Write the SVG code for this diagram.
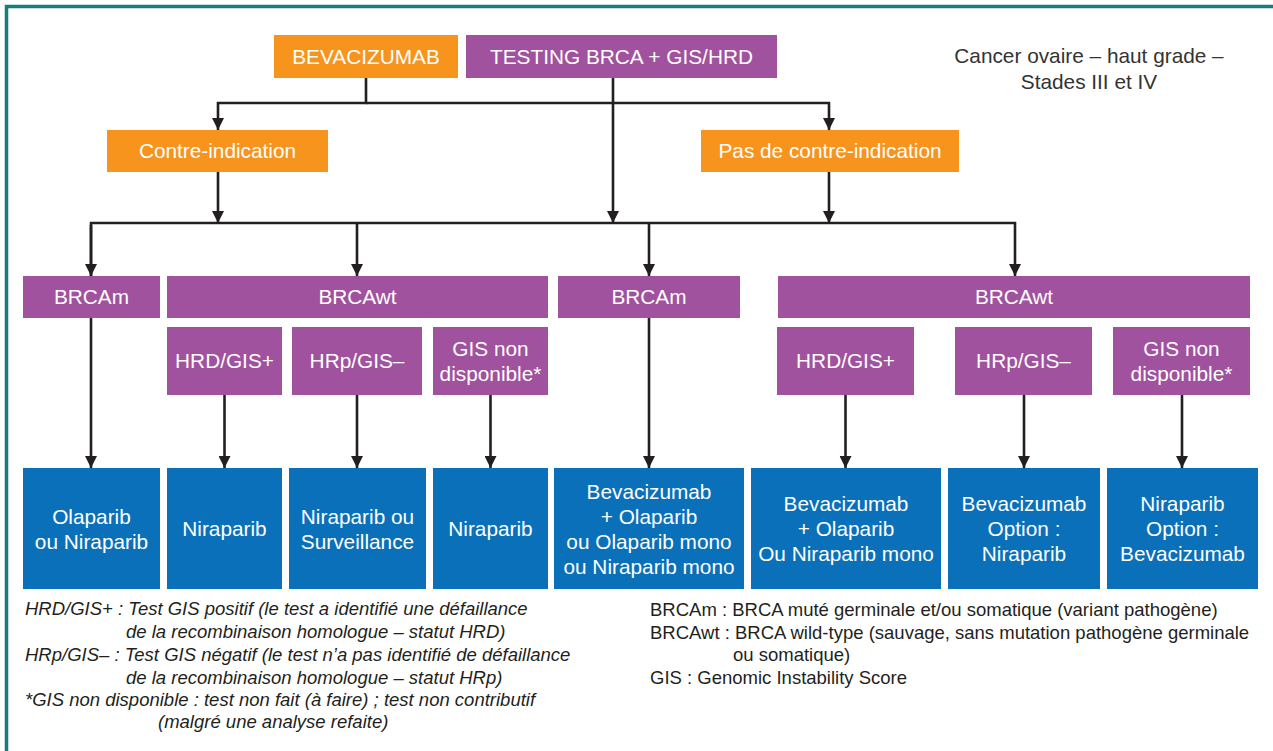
<svg xmlns="http://www.w3.org/2000/svg" width="1273" height="751" viewBox="0 0 1273 751">
<style>
.orange{fill:#f7941d}
.purple{fill:#a0529e}
.blue{fill:#0a70b9}
.lbl{font-family:"Liberation Sans",Arial,sans-serif;font-size:20.8px;fill:#ffffff;text-anchor:middle}
.title{font-family:"Liberation Sans",Arial,sans-serif;font-size:20.8px;fill:#333333;text-anchor:middle}
.leg{font-family:"Liberation Sans",Arial,sans-serif;font-size:18.5px;fill:#231f20}
.legi{font-style:italic}
.conn{fill:none;stroke:#231f20;stroke-width:2.6}
.frame{stroke:#177c7a;stroke-width:3.5;fill:none}
</style>
<defs>
<marker id="arr" viewBox="0 0 10 10" refX="10" refY="5" markerWidth="13" markerHeight="12" markerUnits="userSpaceOnUse" orient="auto">
<path d="M0,0 L10,5 L0,10 z" fill="#231f20"/>
</marker>
</defs>
<rect x="0" y="0" width="1273" height="751" fill="#ffffff"/>
<g id="frame">
<path class="frame" d="M6.5,751 V6.5 H1273"/>
</g>
<g id="connectors">
<path class="conn" d="M366,78 V103 H218 V130" marker-end="url(#arr)"/>
<path class="conn" d="M366,103 H829 V130" marker-end="url(#arr)"/>
<path class="conn" d="M613,78 V223" marker-end="url(#arr)"/>
<path class="conn" d="M218,172 V223" marker-end="url(#arr)"/>
<path class="conn" d="M829,172 V223" marker-end="url(#arr)"/>
<path class="conn" d="M91,276 V223 H1015 V276" marker-end="url(#arr)"/>
<path class="conn" d="M91,225 V276" marker-end="url(#arr)"/>
<path class="conn" d="M357,223 V276" marker-end="url(#arr)"/>
<path class="conn" d="M649,223 V276" marker-end="url(#arr)"/>
<path class="conn" d="M91,318 V468" marker-end="url(#arr)"/>
<path class="conn" d="M224.5,395 V468" marker-end="url(#arr)"/>
<path class="conn" d="M357,395 V468" marker-end="url(#arr)"/>
<path class="conn" d="M490.5,395 V468" marker-end="url(#arr)"/>
<path class="conn" d="M649,318 V468" marker-end="url(#arr)"/>
<path class="conn" d="M845.5,395 V468" marker-end="url(#arr)"/>
<path class="conn" d="M1024,395 V468" marker-end="url(#arr)"/>
<path class="conn" d="M1182,395 V468" marker-end="url(#arr)"/>
</g>
<g id="n-bevacizumab"><rect class="orange" x="274" y="35" width="184" height="43"/><text class="lbl" x="366" y="64">BEVACIZUMAB</text></g>
<g id="n-testing"><rect class="purple" x="466" y="35" width="311" height="43"/><text class="lbl" x="621.5" y="64">TESTING BRCA + GIS/HRD</text></g>
<g id="title"><text class="title" x="1089" y="63">Cancer ovaire – haut grade –</text><text class="title" x="1089" y="89">Stades III et IV</text></g>
<g id="n-contre"><rect class="orange" x="107" y="130" width="221" height="42"/><text class="lbl" x="217.5" y="158">Contre-indication</text></g>
<g id="n-pascontre"><rect class="orange" x="701" y="130" width="258" height="42"/><text class="lbl" x="830" y="158">Pas de contre-indication</text></g>
<g id="n-brcam1"><rect class="purple" x="23" y="276" width="137" height="42"/><text class="lbl" x="91.5" y="304">BRCAm</text></g>
<g id="n-brcawt1"><rect class="purple" x="167" y="276" width="381" height="42"/><text class="lbl" x="357.5" y="304">BRCAwt</text></g>
<g id="n-brcam2"><rect class="purple" x="558" y="276" width="182" height="42"/><text class="lbl" x="649" y="304">BRCAm</text></g>
<g id="n-brcawt2"><rect class="purple" x="778" y="276" width="472" height="42"/><text class="lbl" x="1014" y="304">BRCAwt</text></g>
<g id="n-hrd1"><rect class="purple" x="167" y="327" width="115" height="68"/><text class="lbl" x="224.5" y="368">HRD/GIS+</text></g>
<g id="n-hrp1"><rect class="purple" x="292" y="327" width="130" height="68"/><text class="lbl" x="357" y="368">HRp/GIS–</text></g>
<g id="n-gis1"><rect class="purple" x="433" y="327" width="115" height="68"/><text class="lbl" x="490.5" y="356">GIS non</text><text class="lbl" x="490.5" y="381">disponible*</text></g>
<g id="n-hrd2"><rect class="purple" x="777" y="327" width="137" height="68"/><text class="lbl" x="845.5" y="368">HRD/GIS+</text></g>
<g id="n-hrp2"><rect class="purple" x="955" y="327" width="137" height="68"/><text class="lbl" x="1023.5" y="368">HRp/GIS–</text></g>
<g id="n-gis2"><rect class="purple" x="1113" y="327" width="137" height="68"/><text class="lbl" x="1181.5" y="356">GIS non</text><text class="lbl" x="1181.5" y="381">disponible*</text></g>
<g id="n-t1"><rect class="blue" x="23" y="468" width="137" height="121"/><text class="lbl" x="91.5" y="524">Olaparib</text><text class="lbl" x="91.5" y="549">ou Niraparib</text></g>
<g id="n-t2"><rect class="blue" x="167" y="468" width="115" height="121"/><text class="lbl" x="224.5" y="536">Niraparib</text></g>
<g id="n-t3"><rect class="blue" x="289" y="468" width="137" height="121"/><text class="lbl" x="357.5" y="524">Niraparib ou</text><text class="lbl" x="357.5" y="549">Surveillance</text></g>
<g id="n-t4"><rect class="blue" x="433" y="468" width="115" height="121"/><text class="lbl" x="490.5" y="536">Niraparib</text></g>
<g id="n-t5"><rect class="blue" x="554" y="468" width="190" height="121"/><text class="lbl" x="649" y="499">Bevacizumab</text><text class="lbl" x="649" y="524">+ Olaparib</text><text class="lbl" x="649" y="549">ou Olaparib mono</text><text class="lbl" x="649" y="574">ou Niraparib mono</text></g>
<g id="n-t6"><rect class="blue" x="751" y="468" width="190" height="121"/><text class="lbl" x="846" y="511">Bevacizumab</text><text class="lbl" x="846" y="536">+ Olaparib</text><text class="lbl" x="846" y="561">Ou Niraparib mono</text></g>
<g id="n-t7"><rect class="blue" x="948" y="468" width="152" height="121"/><text class="lbl" x="1024" y="511">Bevacizumab</text><text class="lbl" x="1024" y="536">Option :</text><text class="lbl" x="1024" y="561">Niraparib</text></g>
<g id="n-t8"><rect class="blue" x="1107" y="468" width="151" height="121"/><text class="lbl" x="1182.5" y="511">Niraparib</text><text class="lbl" x="1182.5" y="536">Option :</text><text class="lbl" x="1182.5" y="561">Bevacizumab</text></g>
<g id="legend-left" class="leg legi">
<text x="25" y="615">HRD/GIS+ : Test GIS positif (le test a identifié une défaillance</text>
<text x="126" y="638">de la recombinaison homologue – statut HRD)</text>
<text x="25" y="661">HRp/GIS– : Test GIS négatif (le test n’a pas identifié de défaillance</text>
<text x="126" y="684">de la recombinaison homologue – statut HRp)</text>
<text x="25" y="706">*GIS non disponible : test non fait (à faire) ; test non contributif</text>
<text x="158" y="728">(malgré une analyse refaite)</text>
</g>
<g id="legend-right" class="leg">
<text x="650" y="616">BRCAm : BRCA muté germinale et/ou somatique (variant pathogène)</text>
<text x="650" y="639">BRCAwt : BRCA wild-type (sauvage, sans mutation pathogène germinale</text>
<text x="733" y="661">ou somatique)</text>
<text x="650" y="684">GIS : Genomic Instability Score</text>
</g>
</svg>
